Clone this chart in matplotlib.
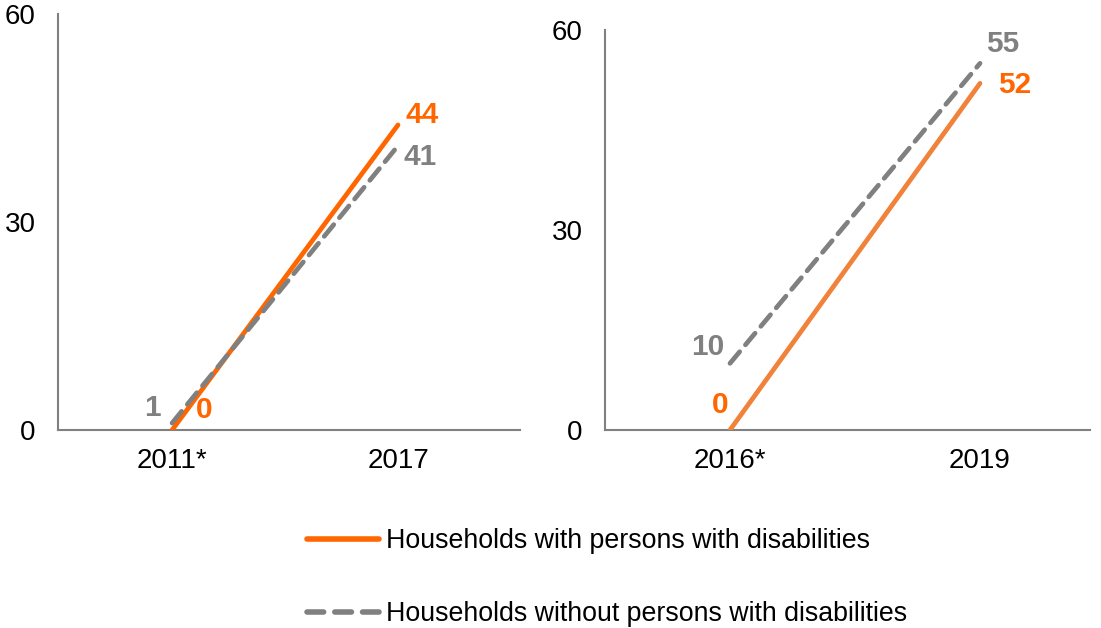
import matplotlib.pyplot as plt
from matplotlib.lines import Line2D

plt.rcParams['font.family'] = ['Liberation Sans', 'DejaVu Sans']

left_years = ["2011*", "2017"]
left_with = [0, 44]
left_without = [1, 41]

right_years = ["2016*", "2019"]
right_with = [0, 52]
right_without = [10, 55]

yticks = [0, 30, 60]
legend_labels = ["Households with persons with disabilities",
                 "Households without persons with disabilities"]

ORANGE = "#FF6600"
ORANGE2 = "#F0823A"
GRAY = "#808080"
FS = 20
LFS = 19.3
BFS = 21.5

fig = plt.figure(figsize=(11.01, 6.28), dpi=100)
ax1 = fig.add_axes([58/1101, 1-430/628, (520-58)/1101, (430-14)/628])
ax2 = fig.add_axes([605/1101, 1-430/628, (1090-605)/1101, (430-30)/628])

def style(ax):
    ax.set_ylim(0, 60)
    ax.set_yticks(yticks)
    ax.set_xticks([0, 1])
    for s in ["top", "right"]:
        ax.spines[s].set_visible(False)
    for s in ["left", "bottom"]:
        ax.spines[s].set_color(GRAY)
        ax.spines[s].set_linewidth(1.5)
    ax.tick_params(axis='y', length=0, pad=16, labelsize=FS)
    ax.tick_params(axis='x', length=0, pad=13, labelsize=FS)

style(ax1)
style(ax2)
ax1.set_xlim(-0.505, 1.54)
ax2.set_xlim(-0.5, 1.44)

x = [0, 1]
ax1.plot(x, left_with, color=ORANGE, lw=3.4, solid_capstyle='round', zorder=3)
ax1.plot(x, left_without, color=GRAY, lw=3.4, dashes=(3.2, 1.9), dash_capstyle='round', zorder=4)
ax1.set_xticklabels(left_years)

ax2.plot(x, right_with, color=ORANGE2, lw=3.4, solid_capstyle='round', zorder=3)
ax2.plot(x, right_without, color=GRAY, lw=3.4, dashes=(3.2, 1.9), dash_capstyle='round', zorder=4)
ax2.set_xticklabels(right_years)

lbl = dict(fontsize=BFS, fontweight='bold', va='center', ha='center', textcoords='offset pixels')
ax1.annotate(str(left_without[0]), (0, left_without[0]), xytext=(-20, 15), color=GRAY, **lbl)
ax1.annotate(str(left_with[0]), (0, left_with[0]), xytext=(32, 20), color=ORANGE, **lbl)
ax1.annotate(str(left_with[1]), (1, left_with[1]), xytext=(24, 10), color=ORANGE, **lbl)
ax1.annotate(str(left_without[1]), (1, left_without[1]), xytext=(22, -11), color=GRAY, **lbl)

ax2.annotate(str(right_without[0]), (0, right_without[0]), xytext=(-22, 16), color=GRAY, **lbl)
ax2.annotate(str(right_with[0]), (0, right_with[0]), xytext=(-10, 25), color=ORANGE, **lbl)
ax2.annotate(str(right_without[1]), (1, right_without[1]), xytext=(23, 19), color=GRAY, **lbl)
ax2.annotate(str(right_with[1]), (1, right_with[1]), xytext=(35, -2), color=ORANGE, **lbl)

handles = [Line2D([0], [0], color=ORANGE, lw=4, solid_capstyle='round'),
           Line2D([0], [0], color=GRAY, lw=4, dashes=(3, 2), dash_capstyle='round')]
fig.legend(handles, legend_labels, loc='upper left', bbox_to_anchor=(307/1101, 1-528/628),
           frameon=False, fontsize=LFS, handlelength=2.7, handletextpad=0.25, labelspacing=1.75,
           borderpad=0, borderaxespad=0)

fig.savefig("out.png", dpi=100)
